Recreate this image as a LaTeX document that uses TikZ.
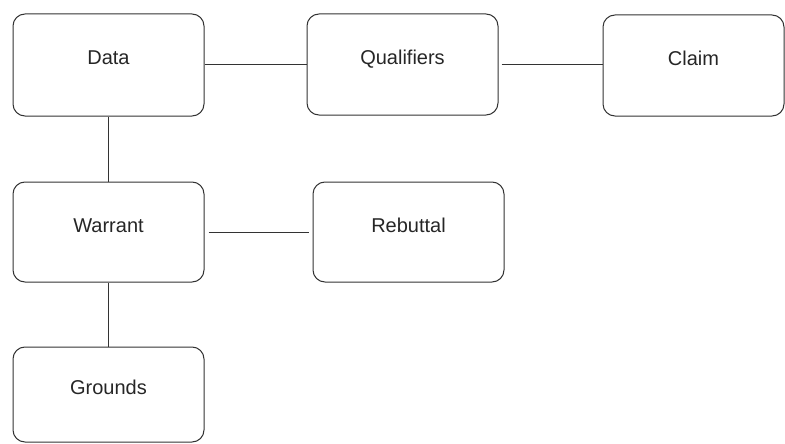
\documentclass[tikz,border=0pt]{standalone}
\usepackage{fontspec}
\setmainfont{Liberation Sans}
\usetikzlibrary{arrows}
\tikzset{
	box/.style={draw=black!80, line width=1pt, rounded corners=12pt,
		minimum width=191pt, minimum height=100pt, inner sep=0pt,
		text height=15pt, text depth=15pt,
		font=\fontsize{20}{24}\selectfont, text=black!85},
	link/.style={draw=black!80, line width=1pt}
}

\begin{document}
\begin{tikzpicture}[x=1pt, y=-1pt]
	\useasboundingbox (0,0) rectangle (785,444);
	\node [box, minimum height=102pt] (data) at (108.5,65) 
		{Data};
	\node [box, minimum height=101pt] (qual) at (402.5,64.5) 
		{Qualifiers};
	\node [box, minimum width=181pt, minimum height=101pt] (claim) at (693.5,65.5) 
		{Claim};
	\node [box] (warrant) at (108.5,232) 
		{Warrant};
	\node [box] (rebuttal) at (408.5,232) 
		{Rebuttal};
	\node [box, minimum height=95pt] (grounds) at (108.5,394.5) 
		{Grounds};
	\draw [ link ] (data.east) to 
		(data.east -| qual.west);
	\draw [ link, shorten <=3pt ] (qual.east) to 
		(qual.east -| claim.west);
	\draw [ link ] (data) to 
		(warrant);
	\draw [ link, shorten <=4pt, shorten >=4pt ] (warrant) to 
		(rebuttal);
	\draw [ link ] (warrant) to 
		(grounds);
\end{tikzpicture}
\end{document}
